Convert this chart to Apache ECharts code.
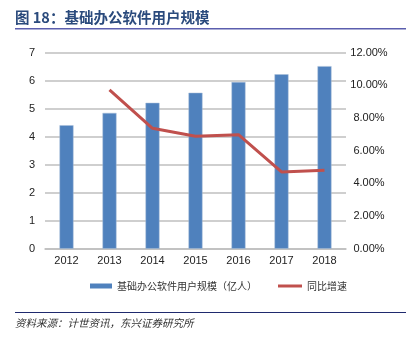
<!DOCTYPE html>
<html><head><meta charset="utf-8">
<script src="https://cdn.jsdelivr.net/npm/echarts@6/dist/echarts.min.js"></script>
<style>html,body{margin:0;padding:0;background:#fff}#c{width:406px;height:342px}</style>
</head><body><div id="c"></div>
<script>
const years = ['2012','2013','2014','2015','2016','2017','2018'];
const users = [4.41, 4.85, 5.21, 5.57, 5.95, 6.23, 6.52];
const growth = [null, 9.72, 7.37, 6.88, 6.98, 4.70, 4.80];
const barName = '基础办公软件用户规模（亿人）';
const lineName = '同比增速';
const titleText = '图 18：基础办公软件用户规模';
const sourceText = '资料来源：计世资讯，东兴证券研究所';

const chart = echarts.init(document.getElementById('c'));
const font = 'Arial, "Liberation Sans", "Noto Sans CJK SC", sans-serif';
chart.setOption({
  animation: false,
  textStyle: {fontFamily: font},
  graphic: [
    {type: 'text', left: 15, top: 10, style: {text: titleText, font: 'bold 14.5px "Noto Sans CJK SC", sans-serif', fill: '#2a4a7c'}},
    {type: 'rect', shape: {x: 15, y: 28, width: 391, height: 1.5}, style: {fill: '#5b5eae'}},
    {type: 'rect', shape: {x: 15, y: 312, width: 391, height: 1}, style: {fill: '#1f2a6e'}},
    {type: 'text', left: 15, top: 318, style: {text: sourceText, font: 'italic 10.5px "Noto Sans CJK SC", sans-serif', fill: '#333'}}
  ],
  grid: {left: 45, right: 60, top: 52.7, bottom: 93.3},
  legend: [
    {data: [barName], left: 85, top: 276, icon: 'rect', itemWidth: 22, itemHeight: 5,
     itemStyle: {borderWidth: 0},
     textStyle: {fontSize: 10, color: '#333', fontFamily: '"Noto Sans CJK SC", sans-serif'}, itemGap: 4},
    {data: [lineName], left: 273, top: 276, icon: 'rect', itemWidth: 24, itemHeight: 3,
     textStyle: {fontSize: 10, color: '#333', fontFamily: '"Noto Sans CJK SC", sans-serif'}}
  ],
  xAxis: {
    type: 'category', data: years,
    axisLine: {lineStyle: {color: '#bfbfbf', width: 1.5}},
    axisTick: {show: false},
    axisLabel: {color: '#222', fontSize: 11, margin: 7}
  },
  yAxis: [
    {type: 'value', min: 0, max: 7, interval: 1,
     axisLine: {show: false}, axisTick: {show: false},
     axisLabel: {color: '#222', fontSize: 11, margin: 10},
     splitLine: {lineStyle: {color: '#bfbfbf', width: 1.5}}},
    {type: 'value', min: 0, max: 12, interval: 2, position: 'right',
     axisLine: {show: false}, axisTick: {show: false},
     axisLabel: {color: '#222', fontSize: 11, margin: 23, align: 'center',
       formatter: v => v.toFixed(2) + '%'},
     splitLine: {show: false}}
  ],
  series: [
    {name: barName, type: 'bar', data: users, barWidth: 14,
     itemStyle: {color: '#4f81bd', borderColor: '#a9bfd9', borderWidth: 0.5}},
    {name: lineName, type: 'line', yAxisIndex: 1, data: growth, symbol: 'none',
     lineStyle: {color: '#c0504d', width: 3}, itemStyle: {color: '#c0504d'}}
  ]
});
</script></body></html>
